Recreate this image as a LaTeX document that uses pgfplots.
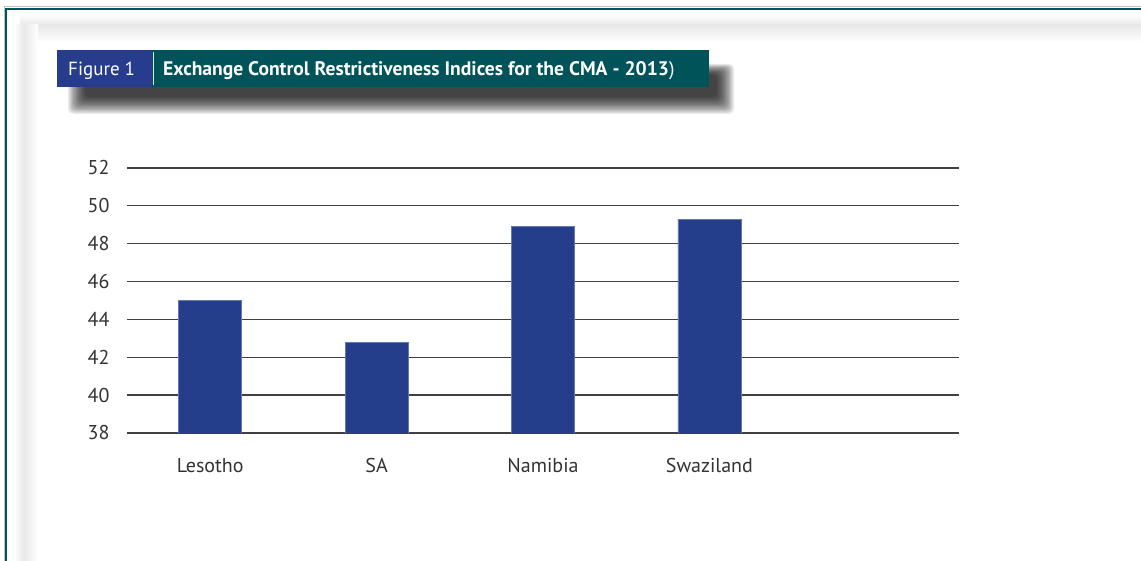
\documentclass[border=0pt]{standalone}
\usepackage{fontspec}
\setmainfont{PT Sans}
\usepackage{pgfplots}
\pgfplotsset{compat=1.18}
\definecolor{barblue}{HTML}{253E8C}
\definecolor{teal}{HTML}{01535A}
\definecolor{figblue}{HTML}{283C8E}
\definecolor{gridc}{HTML}{404040}
\begin{document}
\begin{tikzpicture}[x=1pt,y=1pt]
\useasboundingbox (0,0) rectangle (1141,561);
\fill[white] (0,0) rectangle (1141,561);
% soft gray frame
\shade[top color=white, bottom color=black!9] (20,536) rectangle (1141,547);
\shade[top color=black!9, bottom color=white] (35,519) rectangle (1141,536);
\shade[left color=white, right color=black!9] (14,0) rectangle (24,536);
\shade[left color=black!9, right color=white] (24,0) rectangle (38,536);
% outer border
\draw[teal, line width=1.6] (6,0) -- (6,552) -- (1141,552);
\draw[black!25, line width=0.8] (4,0) -- (4,554.5) -- (1141,554.5);
% blurred shadow under title
\foreach \i in {0,...,13} {
  \fill[black, opacity=0.085, rounded corners=5]
    (68+\i*1.3, 561-114+\i*1.3) rectangle (734-\i*1.3, 561-64-\i*0.8);
}
% title bar
\fill[figblue] (57,474) rectangle (152,511);
\fill[teal] (152,474) rectangle (709,511);
\draw[white!85!teal, line width=1] (153.5,476) -- (153.5,509);
\node[anchor=base west, text=white, font=\fontsize{19}{19}\selectfont, inner sep=0] at (68,485) {Figure 1};
\node[anchor=base west, text=white, font=\fontsize{19.6}{19.6}\selectfont\bfseries, inner sep=0] at (163,485) {Exchange Control Restrictiveness Indices for the CMA - 2013\textmd{)}};
\begin{axis}[
  at={(127pt,128pt)}, anchor=south west,
  scale only axis, width=832pt, height=265pt,
  xmin=-0.5, xmax=4.5, ymin=38, ymax=52,
  ytick={38,40,...,52},
  xtick={0,1,2,3},
  xticklabels={Lesotho,SA,Namibia,Swaziland},
  ymajorgrids,
  grid style={gridc, line width=1.3pt},
  axis line style={draw=none},
  major tick length=0pt,
  tick style={draw=none},
  /pgf/number format/assume math mode=true,
  ticklabel style={font=\fontsize{20}{20}\selectfont, text=black!80},
  yticklabel style={xshift=-14pt},
  xticklabel style={yshift=-22pt},
  ybar, bar width=63pt,
]
\addplot[fill=barblue, draw=barblue!70!white, line width=0.6pt] coordinates {(0,45.0) (1,42.8) (2,48.9) (3,49.3)};
\end{axis}
\end{tikzpicture}
\end{document}
